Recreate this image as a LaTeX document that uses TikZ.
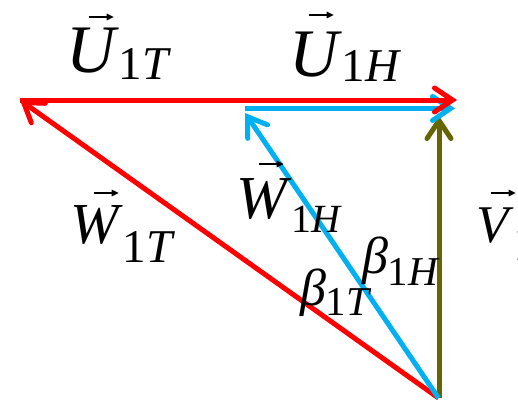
\documentclass[tikz,border=0pt]{standalone}
\usepackage{fontspec}
\setmainfont{Liberation Serif}
\usetikzlibrary{arrows.meta}
\definecolor{vred}{RGB}{255,0,0}
\definecolor{vcyan}{RGB}{0,176,240}
\definecolor{volive}{RGB}{102,102,0}
\newcommand{\ovarr}{\tikz[baseline=0pt]\draw[line width=1.4pt,-{Triangle[length=7pt,width=6.5pt]}] (0pt,0pt)--(25pt,0pt);}
% #1 main size, #2 letter, #3 sub size, #4 sub, #5 sub drop, #6 arrow shift, #7 arrow height
\newcommand{\vlbl}[7]{{\fontsize{#1}{#1}\selectfont\rlap{\kern#6\raisebox{#7}{\ovarr}}\textit{#2}}\raisebox{-#5}{\fontsize{#3}{#3}\selectfont #4}}
\newcommand{\blbl}[5]{{\fontsize{#1}{#1}\selectfont\textit{#2}}\raisebox{-#5}{\fontsize{#3}{#3}\selectfont #4}}
\begin{document}
\begin{tikzpicture}[x=1pt,y=-1pt,
  vec/.style={line width=5pt,-{Straight Barb[length=18pt,width=24pt,line cap=round]}},
  lbl/.style={anchor=base west,inner sep=0pt,outer sep=0pt}]
\useasboundingbox (0,0) rectangle (518,401);
\clip (0,0) rectangle (518,401);
\coordinate (O) at (438.5,398);
\coordinate (A) at (20,100);
\coordinate (B) at (457,100);
\coordinate (C) at (245,113);
\coordinate (Ch) at (245,108.5);
\coordinate (Dh) at (455,108.5);
\coordinate (E) at (439,116);
\coordinate (Ob) at (439,398);
% vectors
\draw[vec,volive] (Ob) -- (E);
\draw[vec,vred] (O) -- (A);
\draw[vec,vcyan] (O) -- (C);
\draw[vec,vcyan] (Ch) -- (Dh);
\draw[vec,vred] (A) -- (B);
% labels
\node[lbl] (u1t) at (66,73) {\vlbl{68pt}{U}{47pt}{1\textit{T}}{7pt}{22pt}{56pt}};
\node[lbl] (u1h) at (289,77) {\vlbl{68pt}{U}{47pt}{1\textit{H}}{5pt}{19pt}{62pt}};
\node[lbl] (w1t) at (70,243) {\vlbl{58pt}{W}{47pt}{1\textit{T}}{19pt}{23pt}{50pt}};
\node[lbl] (w1h) at (236,218) {\vlbl{61pt}{W}{40pt}{1\textit{H}}{14pt}{22pt}{54pt}};
\node[lbl] (b1h) at (362,273) {\blbl{52pt}{β}{41pt}{1\textit{H}}{12pt}};
\node[lbl] (b1t) at (300,305) {\blbl{52pt}{β}{41pt}{1\textit{T}}{10pt}};
\node[lbl] (v1) at (476,242) {\vlbl{53pt}{V}{52pt}{1}{18pt}{14pt}{49pt}};
\end{tikzpicture}
\end{document}
